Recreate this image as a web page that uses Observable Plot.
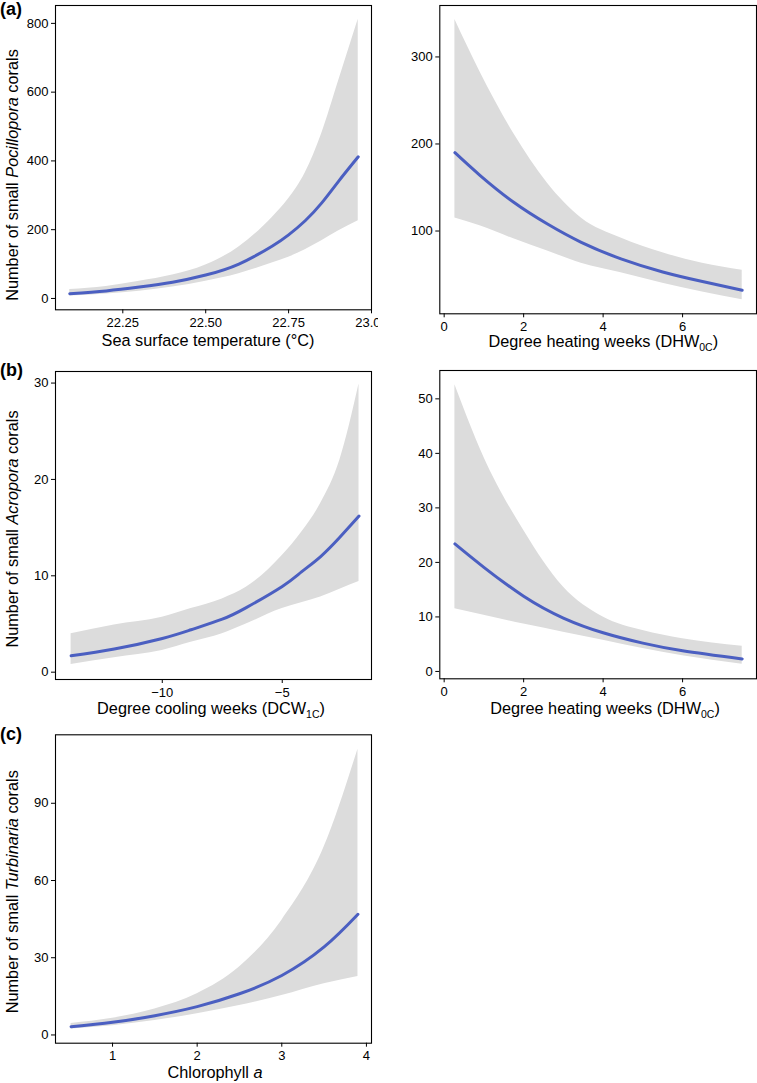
<!DOCTYPE html>
<html><head><meta charset="utf-8">
<script src="https://cdn.jsdelivr.net/npm/d3@7"></script>
<script src="https://cdn.jsdelivr.net/npm/@observablehq/plot@0.6"></script>
<style>
body{margin:0;background:#fff;}
#root{position:relative;width:757px;height:1083px;overflow:hidden;background:#fff;}
.panel{position:absolute;}
.panel svg{display:block;}
</style></head><body><div id="root"></div>
<script>
// (a) Pocillopora vs sea surface temperature
const sstX     = [22.09, 22.2, 22.3, 22.4, 22.5, 22.6, 22.7, 22.75, 22.8, 22.85, 22.9, 22.96];
const sstFit   = [14, 22, 33, 47, 68, 100, 152, 185, 226, 278, 340, 412];
const sstUpper = [26, 35, 50, 68, 97, 150, 235, 290, 365, 480, 630, 812];
const sstLower = [7, 13, 21, 33, 50, 72, 103, 120, 142, 168, 196, 226];
// (a) Pocillopora vs DHW
const dhwPX     = [0.27, 0.9, 1.75, 2.6, 3.45, 4.45, 5.5, 6.5, 7.5];
const dhwPFit   = [190, 164, 133, 108, 87, 68, 53, 42, 32];
const dhwPUpper = [343, 283, 212, 155, 115, 92, 75, 63, 55];
const dhwPLower = [115, 106, 91, 77, 63, 52, 40, 30, 21];
// (b) Acropora vs DCW
const dcwX     = [-13.8, -12, -10, -8.8, -7.5, -6.5, -5, -4.2, -3.4, -2.6, -1.8];
const dcwFit   = [1.7, 2.4, 3.5, 4.4, 5.5, 6.7, 8.9, 10.4, 12.0, 14.0, 16.2];
const dcwUpper = [4.0, 4.9, 5.7, 6.6, 7.6, 8.8, 12.1, 14.5, 17.5, 22, 29.9];
const dcwLower = [0.8, 1.5, 2.25, 3.1, 4.0, 5.0, 6.6, 7.2, 7.8, 8.6, 9.4];
// (b) Acropora vs DHW
const dhwAX     = [0.27, 1, 2, 3, 4, 5, 6, 7.5];
const dhwAFit   = [23.4, 19.1, 13.8, 9.8, 7.1, 5.2, 3.8, 2.3];
const dhwAUpper = [52.6, 39.3, 25.9, 15.5, 10.0, 7.5, 6.0, 4.6];
const dhwALower = [11.5, 10.3, 8.7, 7.2, 5.7, 4.2, 2.9, 1.3];
// (c) Turbinaria vs chlorophyll a
const chlX     = [0.51, 1, 1.5, 2, 2.5, 3, 3.5, 3.9];
const chlFit   = [3.2, 4.9, 7.5, 11, 16, 23.1, 34.2, 46.9];
const chlUpper = [4.5, 6.5, 10.1, 16, 26.4, 44.5, 73, 111];
const chlLower = [2.3, 3.6, 5.6, 8.2, 11.4, 15.3, 19.9, 22.7];

// tick labels
const sstTicks = [22.25, 22.5, 22.75, 23];
const dhwTicks = [0, 2, 4, 6];
const dcwTicks = [-10, -5];
const chlTicks = [1, 2, 3, 4];
const yTicksPoc = [0, 200, 400, 600, 800];
const yTicksPocD = [100, 200, 300];
const yTicksAcr = [0, 10, 20, 30];
const yTicksAcrD = [0, 10, 20, 30, 40, 50];
const yTicksTur = [0, 30, 60, 90];

const FONT = "'Liberation Sans', Arial, Helvetica, sans-serif";
const root = document.getElementById("root");

function addText(svg, segs, opts) {
  const t = d3.select(svg).append("text")
    .attr("font-family", FONT)
    .attr("font-size", opts.size || 16.3)
    .attr("font-weight", opts.bold ? "bold" : null)
    .attr("fill", "#000")
    .attr("text-anchor", opts.anchor || "middle")
    .attr("transform", opts.transform);
  let shifted = false;
  for (const s of segs) {
    const sp = t.append("tspan").text(s.t);
    if (s.italic) sp.attr("font-style", "italic");
    if (s.sub) { sp.attr("font-size", 10.5).attr("dy", 4); shifted = true; }
    else if (shifted) { sp.attr("dy", -4); shifted = false; }
  }
}

function panel(cfg) {
  const data = cfg.x.map((x, i) => ({x, fit: cfg.fit[i], lo: cfg.lower[i], hi: cfg.upper[i]}));
  const chart = Plot.plot({
    width: cfg.width, height: cfg.height,
    marginLeft: cfg.ml, marginRight: cfg.mr, marginTop: cfg.mt, marginBottom: cfg.mb,
    style: {fontFamily: FONT, fontSize: "13px", color: "#000", background: "white", overflow: "hidden"},
    x: {domain: cfg.xDomain},
    y: {domain: cfg.yDomain},
    marks: [
      Plot.areaY(data, {x: "x", y1: "lo", y2: "hi", fill: "#dcdcdc", curve: "monotone-x"}),
      Plot.lineY(data, {x: "x", y: "fit", stroke: "#4b5fc1", strokeWidth: 3, curve: "natural"}),
      Plot.frame({stroke: "#000", strokeWidth: 1.1}),
      Plot.axisX({ticks: cfg.xTicks, tickFormat: cfg.xFormat, tickSize: 4, tickPadding: 4, label: null}),
      Plot.axisY({ticks: cfg.yTicks, tickFormat: d => String(d), tickSize: 4, tickPadding: 3, label: null})
    ]
  });
  chart.style.overflow = "hidden";
  const div = document.createElement("div");
  div.className = "panel";
  div.style.left = cfg.left + "px";
  div.style.top = cfg.top + "px";
  div.appendChild(chart);
  root.appendChild(div);
  addText(chart, cfg.xTitle, {transform: `translate(${cfg.xtx},${cfg.xty})`});
  if (cfg.yTitle) addText(chart, cfg.yTitle, {transform: `translate(18.3,${cfg.yty}) rotate(-90)`});
  if (cfg.tag) addText(chart, [{t: cfg.tag}], {bold: true, size: 18, anchor: "start", transform: `translate(0,${cfg.tagY})`});
}

const minusFmt = d => d < 0 ? "\u2212" + Math.abs(d) : String(d);

panel({
  left: 0, top: 0, width: 378, height: 358, ml: 55, mr: 7, mt: 5, mb: 48.7,
  x: sstX, fit: sstFit, upper: sstUpper, lower: sstLower,
  xDomain: [22.047, 23.0], yDomain: [-33, 852],
  xTicks: sstTicks, xFormat: d3.format(".2f"), yTicks: yTicksPoc,
  xTitle: [{t: "Sea surface temperature (°C)"}], xtx: 208, xty: 346,
  yTitle: [{t: "Number of small "}, {t: "Pocillopora", italic: true}, {t: " corals"}], yty: 175,
  tag: "(a)", tagY: 14.5
});
panel({
  left: 380, top: 0, width: 377, height: 358, ml: 59.3, mr: 1, mt: 5, mb: 44.7,
  x: dhwPX, fit: dhwPFit, upper: dhwPUpper, lower: dhwPLower,
  xDomain: [-0.11, 7.86], yDomain: [4.9, 359.1],
  xTicks: dhwTicks, xFormat: d => String(d), yTicks: yTicksPocD,
  xTitle: [{t: "Degree heating weeks (DHW"}, {t: "0C", sub: true}, {t: ")"}], xtx: 223.3, xty: 347
});
panel({
  left: 0, top: 360, width: 378, height: 360, ml: 55, mr: 7, mt: 11, mb: 41,
  x: dcwX, fit: dcwFit, upper: dcwUpper, lower: dcwLower,
  xDomain: [-14.45, -1.28], yDomain: [-0.76, 31.2],
  xTicks: dcwTicks, xFormat: minusFmt, yTicks: yTicksAcr,
  xTitle: [{t: "Degree cooling weeks (DCW"}, {t: "1C", sub: true}, {t: ")"}], xtx: 211, xty: 354,
  yTitle: [{t: "Number of small "}, {t: "Acropora", italic: true}, {t: " corals"}], yty: 169,
  tag: "(b)", tagY: 16
});
panel({
  left: 380, top: 360, width: 377, height: 360, ml: 59.3, mr: 1, mt: 10, mb: 41.7,
  x: dhwAX, fit: dhwAFit, upper: dhwAUpper, lower: dhwALower,
  xDomain: [-0.11, 7.86], yDomain: [-1.35, 55.2],
  xTicks: dhwTicks, xFormat: d => String(d), yTicks: yTicksAcrD,
  xTitle: [{t: "Degree heating weeks (DHW"}, {t: "0C", sub: true}, {t: ")"}], xtx: 225, xty: 354
});
panel({
  left: 0, top: 720, width: 378, height: 363, ml: 55, mr: 7, mt: 14.3, mb: 40.3,
  x: chlX, fit: chlFit, upper: chlUpper, lower: chlLower,
  xDomain: [0.326, 4.06], yDomain: [-3.2, 116.6],
  xTicks: chlTicks, xFormat: d => String(d), yTicks: yTicksTur,
  xTitle: [{t: "Chlorophyll "}, {t: "a", italic: true}], xtx: 215, xty: 358,
  yTitle: [{t: "Number of small "}, {t: "Turbinaria", italic: true}, {t: " corals"}], yty: 171.7,
  tag: "(c)", tagY: 20
});
</script></body></html>
